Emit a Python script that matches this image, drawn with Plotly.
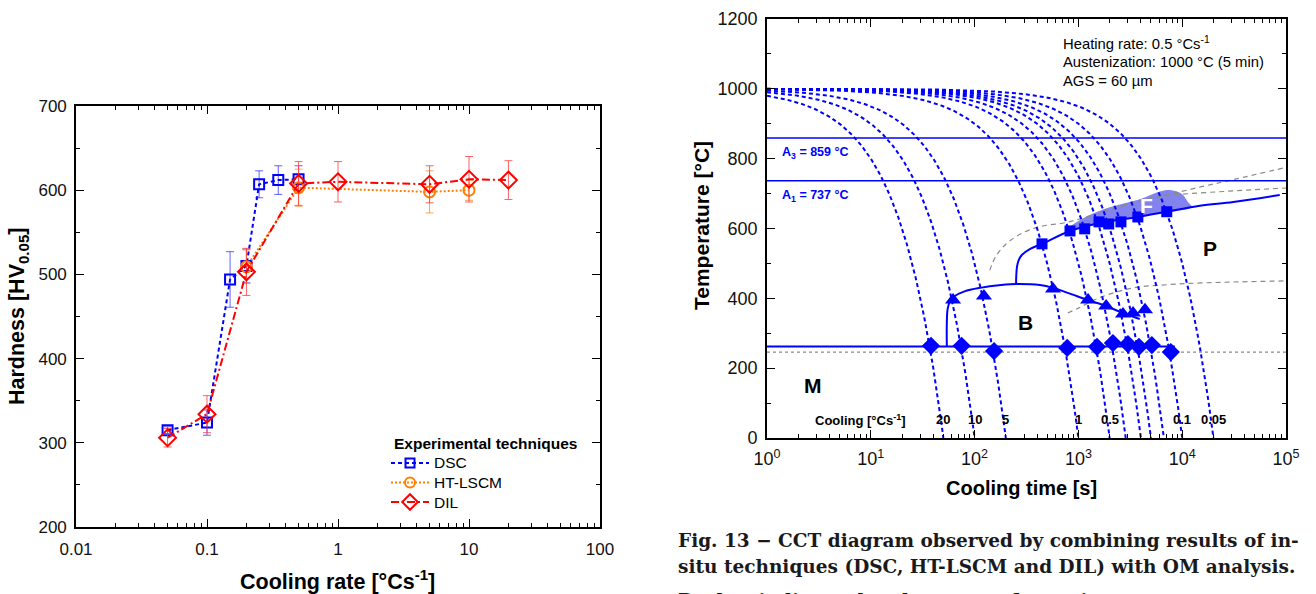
import numpy as np
import plotly.graph_objects as go

W, H = 1316, 594

# ---------------- Left chart data (hardness vs cooling rate) ----------------
dsc_rate = [0.05, 0.1, 0.15, 0.2, 0.25, 0.35, 0.5]
dsc_hv = [315, 324, 494, 510, 607, 612, 613]
dsc_err = [4, 15, 33, 20, 16, 17, 16]

ht_rate = [0.2, 0.5, 5, 10]
ht_hv = [509, 603, 598, 600]
ht_err = [20, 22, 25, 12]

dil_rate = [0.05, 0.1, 0.2, 0.5, 1, 5, 10, 20]
dil_hv = [306, 334, 503, 608, 610, 607, 613, 612]
dil_err = [11, 22, 28, 26, 24, 22, 27, 23]

left_xticks = [0.01, 0.1, 1, 10, 100]
left_xticktext = ["0.01", "0.1", "1", "10", "100"]

# ---------------- Right chart data (CCT diagram) ----------------
cool_rates = [20, 10, 5, 1, 0.5, 0.35, 0.25, 0.2, 0.15, 0.1, 0.05]
labelled_rates = [20, 10, 5, 1, 0.5, 0.1, 0.05]
labelled_text = ["20", "10", "5", "1", "0.5", "0.1", "0.05"]
T_aust = 1000
A3 = 859
A1 = 737
Ms_level = 262
Ms_line_end = 8500
Ms_dotted = 246

fs_t = [446, 830, 1150, 1580, 1960, 2570, 3740, 7100]
fs_T = [556, 593, 599, 619, 613, 619, 633, 648]

bs_t = [62, 123, 569, 1240, 1850, 2690, 3360, 4380]
bs_T = [395, 407, 427, 395, 378, 355, 358, 367]

ms_t = [38, 75, 154, 780, 1510, 2150, 3000, 3830, 5100, 7770]
ms_T = [264, 264, 249, 258, 261, 272, 269, 261, 266, 246]

bs_curve_t = [54, 54, 55, 58, 64, 80, 113, 180, 256, 426, 569, 800, 1240, 1850, 2690, 3900]
bs_curve_T = [262, 330, 370, 392, 406, 420, 430, 438, 441, 438, 430, 415, 395, 378, 358, 341]

fp_curve_t = [251, 252, 256, 265, 285, 340, 446, 830, 1620, 3740, 7100, 14800, 31000, 87000]
fp_curve_T = [441, 465, 490, 508, 524, 541, 556, 593, 616, 633, 648, 665, 676, 696]

f_region_t = [790, 1210, 2000, 3900, 6100, 7600, 10000, 11400, 12400, 7100, 3740, 1620, 790]
f_region_T = [602, 635, 661, 684, 706, 710, 698, 675, 661, 648, 633, 616, 593]

grayA_t = [140, 160, 200, 280, 420, 780, 1620, 3370, 7100, 15000, 31000, 100000]
grayA_T = [480, 520, 555, 585, 605, 618, 645, 673, 696, 719, 740, 775]

grayB_t = [2600, 4000, 7000, 12000, 25000, 50000, 100000]
grayB_T = [665, 680, 694, 700, 706, 711, 716]

grayC_t = [790, 1000, 1600, 3400, 7100, 15000, 100000]
grayC_T = [358, 372, 402, 430, 439, 444, 450]

right_xticks = [1, 10, 100, 1000, 10000, 100000]
right_xticktext = ["10<sup>0</sup>", "10<sup>1</sup>", "10<sup>2</sup>",
                   "10<sup>3</sup>", "10<sup>4</sup>", "10<sup>5</sup>"]

legend_names = ["DSC", "HT-LSCM", "DIL"]

BLUE = "#0000ff"
ORANGE = "#ff8000"
RED = "#ff0000"
GRAY = "#8a8a8a"
FONT = "Liberation Sans"


def px_x(p):
    return p / W


def px_y(p):
    return 1 - p / H


fig = go.Figure()

styles = [
    dict(color=BLUE, dash="4px,3px", symbol="square-open", size=10,
         ecolor="rgba(60,60,255,0.8)"),
    dict(color=ORANGE, dash="2px,2px", symbol="circle-open", size=11,
         ecolor="rgba(255,140,40,0.8)"),
    dict(color=RED, dash="8px,3px,2px,3px", symbol="diamond-open", size=13,
         ecolor="rgba(255,60,60,0.8)"),
]
series = [(dsc_rate, dsc_hv, dsc_err), (ht_rate, ht_hv, ht_err), (dil_rate, dil_hv, dil_err)]

# ---------- left chart traces ----------
for (xs, ys, es), st, nm in zip(series, styles, legend_names):
    fig.add_trace(go.Scatter(
        x=xs, y=ys, name=nm, mode="lines+markers",
        line=dict(color=st["color"], width=2, dash=st["dash"]),
        marker=dict(symbol=st["symbol"], size=st["size"], color=st["color"],
                    line=dict(width=2, color=st["color"])),
        error_y=dict(type="data", array=es, color=st["ecolor"], thickness=1, width=4),
        showlegend=False, xaxis="x", yaxis="y"))

# ---------- manual legend (small pixel-space helper axis) ----------
LEG_X0, LEG_X1, LEG_Y0, LEG_Y1 = 386, 434, 450, 515
for i, st in enumerate(styles):
    yy = 463 + 19.5 * i
    fig.add_trace(go.Scatter(
        x=[391, 429], y=[yy, yy], mode="lines",
        line=dict(color=st["color"], width=2, dash=st["dash"]),
        showlegend=False, hoverinfo="skip", xaxis="x3", yaxis="y3"))
    fig.add_trace(go.Scatter(
        x=[410], y=[yy], mode="markers",
        marker=dict(symbol=st["symbol"], size=st["size"] - 1, color=st["color"],
                    line=dict(width=2, color=st["color"])),
        showlegend=False, hoverinfo="skip", xaxis="x3", yaxis="y3"))

# ---------- right chart traces ----------
# ferrite region
fig.add_trace(go.Scatter(
    x=f_region_t, y=f_region_T, mode="lines", fill="toself",
    fillcolor="#8383ee", line=dict(width=0, color="#8383ee", shape="spline"),
    showlegend=False, hoverinfo="skip", xaxis="x2", yaxis="y2"))

# gray guide lines
for gt, gT in [(grayA_t, grayA_T), (grayB_t, grayB_T), (grayC_t, grayC_T)]:
    fig.add_trace(go.Scatter(
        x=gt, y=gT, mode="lines", line=dict(color=GRAY, width=1.2, dash="5px,4px"),
        line_shape="spline", showlegend=False, hoverinfo="skip", xaxis="x2", yaxis="y2"))
fig.add_trace(go.Scatter(
    x=[1, 100000], y=[Ms_dotted, Ms_dotted], mode="lines",
    line=dict(color=GRAY, width=1.2, dash="3px,3px"),
    showlegend=False, hoverinfo="skip", xaxis="x2", yaxis="y2"))

# A3, A1 lines
for lvl in (A3, A1):
    fig.add_trace(go.Scatter(
        x=[1, 100000], y=[lvl, lvl], mode="lines", line=dict(color=BLUE, width=1.5),
        showlegend=False, hoverinfo="skip", xaxis="x2", yaxis="y2"))

# cooling curves: linear cooling from austenitization temperature
for r in cool_rates:
    t_end = T_aust / r
    t = np.logspace(0, np.log10(t_end), 300)
    T = T_aust - r * t
    fig.add_trace(go.Scatter(
        x=t, y=T, mode="lines", line=dict(color=BLUE, width=2, dash="4px,3px"),
        showlegend=False, hoverinfo="skip", xaxis="x2", yaxis="y2"))

# Ms line
fig.add_trace(go.Scatter(
    x=[1, Ms_line_end], y=[Ms_level, Ms_level], mode="lines", line=dict(color=BLUE, width=2),
    showlegend=False, hoverinfo="skip", xaxis="x2", yaxis="y2"))

# bainite start and ferrite/pearlite start curves
fig.add_trace(go.Scatter(
    x=bs_curve_t, y=bs_curve_T, mode="lines", line=dict(color=BLUE, width=2, shape="spline"),
    showlegend=False, hoverinfo="skip", xaxis="x2", yaxis="y2"))
fig.add_trace(go.Scatter(
    x=fp_curve_t, y=fp_curve_T, mode="lines", line=dict(color=BLUE, width=2, shape="spline"),
    showlegend=False, hoverinfo="skip", xaxis="x2", yaxis="y2"))

# markers
fig.add_trace(go.Scatter(
    x=fs_t, y=fs_T, mode="markers", marker=dict(symbol="square", size=11, color=BLUE),
    showlegend=False, xaxis="x2", yaxis="y2"))
fig.add_trace(go.Scatter(
    x=bs_t, y=bs_T, mode="markers", marker=dict(symbol="triangle-up", size=14, color=BLUE),
    showlegend=False, xaxis="x2", yaxis="y2"))
fig.add_trace(go.Scatter(
    x=ms_t, y=ms_T, mode="markers", marker=dict(symbol="diamond", size=14, color=BLUE),
    showlegend=False, xaxis="x2", yaxis="y2"))

# ---------- axes ----------
ax_common = dict(showline=True, linecolor="black", linewidth=1.6, mirror="ticks",
                 ticks="inside", tickcolor="black", tickwidth=1.3, showgrid=False,
                 zeroline=False, automargin=False)

left_minor_x = [m * 10.0 ** e for e in range(-2, 2) for m in range(2, 10)]
right_minor_x = [m * 10.0 ** e for e in range(0, 5) for m in range(2, 10)]
left_tf = dict(family=FONT, size=17, color="#111")
right_tf = dict(family=FONT, size=18, color="#111")

fig.update_layout(
    width=W, height=H, margin=dict(l=0, r=0, t=0, b=0, autoexpand=False),
    paper_bgcolor="white", plot_bgcolor="rgba(0,0,0,0)",
    font=dict(family=FONT, color="black"),
    showlegend=False,
    xaxis=dict(domain=[px_x(76), px_x(600)], type="log", range=[-2, 2],
               tickvals=left_xticks, ticktext=left_xticktext, ticklen=8,
               ticklabelstandoff=6, tickfont=left_tf,
               minor=dict(tickvals=left_minor_x, ticks="inside", ticklen=4, tickcolor="black"),
               anchor="y", **ax_common),
    yaxis=dict(domain=[px_y(527), px_y(106)], range=[200, 700], dtick=100, ticklen=8,
               ticklabelstandoff=4, tickfont=left_tf,
               minor=dict(dtick=50, ticks="inside", ticklen=4, tickcolor="black"),
               anchor="x", **ax_common),
    xaxis2=dict(domain=[px_x(767), px_x(1286)], type="log", range=[0, 5],
                tickvals=right_xticks, ticktext=right_xticktext, ticklen=8,
                ticklabelstandoff=4, tickfont=right_tf,
                minor=dict(tickvals=right_minor_x, ticks="inside", ticklen=4, tickcolor="black"),
                anchor="y2", **ax_common),
    yaxis2=dict(domain=[px_y(438), px_y(19)], range=[0, 1200], dtick=200, ticklen=8,
                ticklabelstandoff=4, tickfont=right_tf,
                minor=dict(dtick=100, ticks="inside", ticklen=4, tickcolor="black"),
                anchor="x2", **ax_common),
    xaxis3=dict(domain=[px_x(LEG_X0), px_x(LEG_X1)], range=[LEG_X0, LEG_X1], visible=False,
                fixedrange=True, automargin=False, anchor="y3"),
    yaxis3=dict(domain=[px_y(LEG_Y1), px_y(LEG_Y0)], range=[LEG_Y1, LEG_Y0], visible=False,
                fixedrange=True, automargin=False, anchor="x3"),
)

ann = []
# legend texts
ann.append(dict(x=px_x(392), y=px_y(443), xref="paper", yref="paper", showarrow=False,
                text="<b>Experimental techniques</b>", font=dict(family=FONT, size=15.5),
                xanchor="left", yanchor="middle"))
for i, nm in enumerate(legend_names):
    ann.append(dict(x=px_x(432), y=px_y(463 + 19.5 * i), xref="paper", yref="paper",
                    showarrow=False, text=nm, font=dict(family=FONT, size=15.5),
                    xanchor="left", yanchor="middle"))
# left axis titles
ann.append(dict(x=px_x(18), y=px_y(317), xref="paper", yref="paper", showarrow=False,
                text="<b>Hardness [HV<sub>0.05</sub>]</b>", textangle=-90,
                font=dict(family=FONT, size=21.5), xanchor="center", yanchor="middle"))
ann.append(dict(x=px_x(337), y=px_y(580), xref="paper", yref="paper", showarrow=False,
                text="<b>Cooling rate [°Cs<sup>-1</sup>]</b>",
                font=dict(family=FONT, size=21.5), xanchor="center", yanchor="middle"))
# right axis titles
ann.append(dict(x=px_x(702), y=px_y(226), xref="paper", yref="paper", showarrow=False,
                text="<b>Temperature [°C]</b>", textangle=-90,
                font=dict(family=FONT, size=21), xanchor="center", yanchor="middle"))
ann.append(dict(x=px_x(1021), y=px_y(488), xref="paper", yref="paper", showarrow=False,
                text="<b>Cooling time [s]</b>",
                font=dict(family=FONT, size=20), xanchor="center", yanchor="middle"))
# info text
for i, line in enumerate(["Heating rate: 0.5 °Cs<sup>-1</sup>",
                          "Austenization: 1000 °C (5 min)",
                          "AGS = 60 µm"]):
    ann.append(dict(x=px_x(1061), y=px_y(43 + 19 * i), xref="paper", yref="paper",
                    showarrow=False, text=line, font=dict(family=FONT, size=14.8),
                    xanchor="left", yanchor="middle"))
# A3 / A1 labels
ann.append(dict(x=px_x(780), y=px_y(153), xref="paper", yref="paper", showarrow=False,
                text="<b>A<sub>3</sub> = %d °C</b>" % A3, font=dict(family=FONT, size=12.5, color=BLUE),
                xanchor="left", yanchor="middle"))
ann.append(dict(x=px_x(780), y=px_y(196), xref="paper", yref="paper", showarrow=False,
                text="<b>A<sub>1</sub> = %d °C</b>" % A1, font=dict(family=FONT, size=12.5, color=BLUE),
                xanchor="left", yanchor="middle"))
# phase labels
for txt, x, y, col in [("P", 1210, 249, "black"), ("B", 1025, 322, "black"),
                       ("M", 813, 385, "black"), ("F", 1146, 205, "white")]:
    ann.append(dict(x=px_x(x), y=px_y(y), xref="paper", yref="paper", showarrow=False,
                    text="<b>%s</b>" % txt, font=dict(family=FONT, size=21, color=col),
                    xanchor="center", yanchor="middle"))
# cooling labels
ann.append(dict(x=px_x(860), y=px_y(420), xref="paper", yref="paper", showarrow=False,
                text="<b>Cooling [°Cs<sup>-1</sup>]</b>", font=dict(family=FONT, size=13),
                xanchor="center", yanchor="middle"))
for r, txt in zip(labelled_rates, labelled_text):
    ann.append(dict(x=np.log10(T_aust / r), y=52, xref="x2", yref="y2", showarrow=False,
                    text="<b>%s</b>" % txt, font=dict(family=FONT, size=13),
                    xanchor="center", yanchor="middle"))
# caption
cap = ["Fig. 13 \u2212 CCT diagram observed by combining results of in-",
       "situ techniques (DSC, HT-LSCM and DIL) with OM analysis.",
       "Dashes indicate the phase transformation temperatures"]
cap_y = [540, 566.5, 601]
for line, cy in zip(cap, cap_y):
    ann.append(dict(x=px_x(676), y=px_y(cy), xref="paper",
                    yref="paper", showarrow=False, text="<b>%s</b>" % line,
                    font=dict(family="DejaVu Serif", size=18.5, color="#1a1a1a"),
                    xanchor="left", yanchor="middle"))

fig.update_layout(annotations=ann)
fig.write_html("out.html")
